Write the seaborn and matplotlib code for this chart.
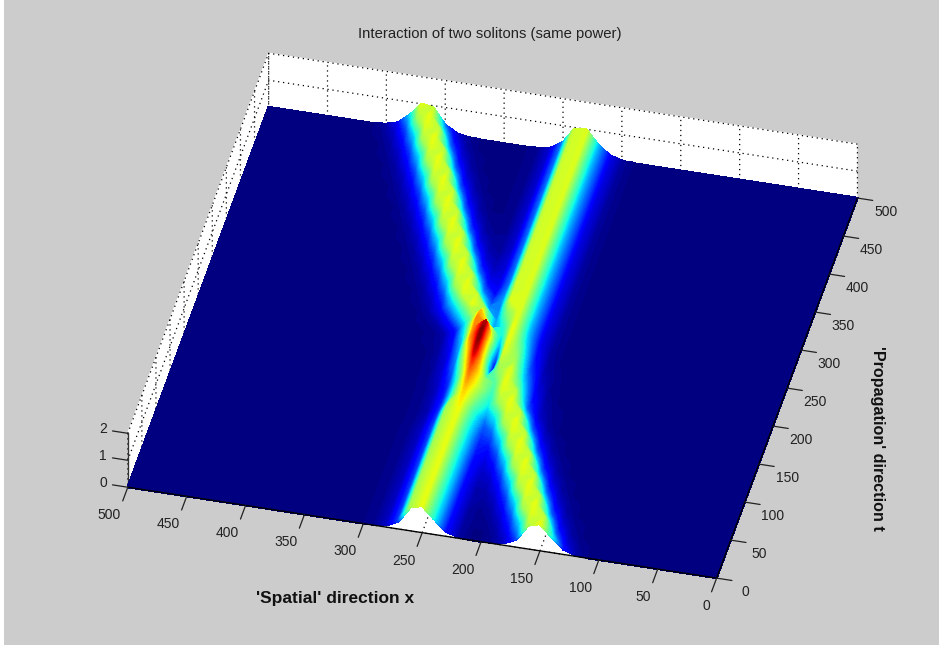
import numpy as np
import matplotlib
matplotlib.use('Agg')
import matplotlib.pyplot as plt
from matplotlib.patches import Rectangle
import seaborn as sns

# Height, in 1/100 units, one row per t value (step 12.5).
# Each row starts at x=100, step 10; anything not listed is flat (zero).
t_vals = np.arange(0, 501, 12.5)
x_vals = [0] + list(range(100, 431, 10)) + [500]
rows_front = [
    [0,1,5,19,58,100,88,30,9,3,1,1,5,19,58,100,88,30,9,3,1],
    [0,1,3,10,34,92,99,52,17,5,1,1,5,19,58,100,88,30,9,3,1],
    [0,0,1,5,19,58,100,88,30,9,3,2,5,19,58,100,88,30,9,3,1],
    [0,0,1,3,10,34,92,99,52,17,5,2,5,19,58,100,88,30,9,3,1],
    [0,0,0,1,5,19,58,100,88,30,9,4,6,19,58,100,88,30,9,3,1],
    [0,0,0,1,3,10,34,92,99,52,17,6,6,19,58,100,88,30,9,3,1],
    [0,0,0,0,1,5,19,58,100,88,30,10,8,20,58,100,88,30,9,3,1],
    [0,0,0,0,1,3,10,34,92,99,52,18,10,20,58,100,88,30,9,3,1],
    [0,0,0,0,0,1,5,19,58,100,88,31,14,22,59,100,88,30,9,3,1],
    [0,0,0,0,0,1,3,10,34,92,99,53,22,24,59,100,88,30,9,3,1],
    [0,0,0,0,0,0,1,5,19,58,100,88,35,28,61,101,88,30,9,3,1],
    [0,0,0,0,0,0,1,3,10,34,92,99,57,36,65,105,85,28,8,2,1],
    [0,0,0,0,0,0,0,1,5,19,58,100,88,54,78,110,72,26,7,2,1],
]
rows_collision = [
    [0,0,0,0,0,0,0,1,3,10,34,92,99,62,88,120,70,25,8,2,1],
    [0,0,0,0,0,0,0,1,2,7,24,72,100,70,85,133,72,26,8,2,1],
    [0,0,0,0,0,0,0,0,1,5,18,56,98,82,55,150,85,30,10,3,1],
    [0,0,0,0,0,0,0,0,1,3,13,43,88,92,20,158,100,38,12,3,1],
    [0,0,0,0,0,0,0,0,0,3,9,32,80,98,12,158,116,44,13,4,1],
    [0,0,0,0,0,0,0,0,0,2,6,25,70,100,30,152,118,50,16,4,1],
    [0,0,0,0,0,0,0,0,0,1,5,20,58,100,50,100,122,60,20,5,2,1],
    [0,0,0,0,0,0,0,0,0,1,4,16,50,99,62,42,112,68,24,7,2,1],
    [0,0,0,0,0,0,0,0,0,1,4,15,47,98,80,40,85,100,60,22,6,2,1],
    [0,0,0,0,0,0,0,0,0,1,4,15,47,98,98,40,45,95,99,52,17,5,1],
    [0,0,0,0,0,0,0,0,0,1,4,15,47,98,95,43,30,60,100,88,30,9,3,1],
    [0,0,0,0,0,0,0,0,0,1,4,15,47,98,96,41,21,37,92,99,52,17,5,1],
]
# past the collision the right ridge stays put: x=100..250 is the same in every row
ridge_right = [0,0,0,0,0,0,0,0,0,1,4,15,47,98,95,38]
rows_back = [
    [16,22,59,100,88,30,9,3,1],
    [14,13,35,92,99,52,17,5,1],
    [12,8,20,58,100,88,30,9,3,1],
    [12,6,11,34,92,99,52,17,5,1],
    [11,4,6,19,58,100,88,30,9,3,1],
    [11,4,4,10,34,92,99,52,17,5,1],
    [11,3,2,5,19,58,100,88,30,9,3,1],
    [11,3,2,3,10,34,92,99,52,17,5,1],
    [11,3,1,1,5,19,58,100,88,30,9,3,1],
    [11,3,1,1,3,10,34,92,99,52,17,5,1],
    [11,3,1,0,1,5,19,58,100,88,30,9,3,1],
    [11,3,1,0,1,3,10,34,92,99,52,17,5,1],
    [11,3,1,0,0,1,5,19,58,100,88,30,9,3,1],
    [11,3,1,0,0,1,3,10,34,92,99,52,17,5,1],
    [11,3,1,0,0,0,1,5,19,58,100,88,30,9,3,1],
    [11,3,1,0,0,0,1,3,10,34,92,99,52,17,5,1],
]

x_ticks = list(range(0, 501, 50))
t_ticks = list(range(0, 501, 50))
z_ticks = [0, 1, 2]

rows = rows_front + rows_collision + [ridge_right + r for r in rows_back]
Z = np.zeros((len(t_vals), len(x_vals)))
for i, r in enumerate(rows):
    Z[i, 1:1 + len(r)] = r
Z = Z / 100
X, T = np.meshgrid(x_vals, t_vals)

sns.set_theme(style='white')
plt.rcParams['font.family'] = ['Liberation Sans', 'DejaVu Sans']

fig = plt.figure(figsize=(9.39, 6.49), dpi=100, facecolor='white')
fig.patches.append(Rectangle((4 / 939, 4 / 649), 935 / 939, 645 / 649, transform=fig.transFigure,
                             facecolor='#cccccc', edgecolor='none', figure=fig, zorder=-5))

# big square axes, the surface gets clipped to the axes box otherwise
ax = fig.add_axes([-20.9 / 939, -180.2 / 649, 1000 / 939, 1000 / 649], projection='3d',
                  facecolor='none', computed_zorder=False)
ax.set_proj_type('ortho')
ax.patch.set_alpha(0)
ax.view_init(elev=40.2, azim=-76.55)
ax.set_box_aspect((1, 1, 0.1166), zoom=0.834)

levels = np.linspace(-0.005, 1.61, 90)
cs = ax.contourf(X, T, Z, levels=levels, cmap='jet', vmin=0, vmax=1.6, zorder=2)
cs.set_edgecolor('face')
cs.set_linewidth(1.0)

# axis lines and ticks sit under the surface, draw them on top
tick_col = '#222222'
ax.plot([500, 0], [0, 0], [0, 0], color='black', lw=1.0, zorder=5)
ax.plot([0, 0], [0, 500], [0, 0], color='black', lw=1.0, zorder=5)
ax.plot([500, 500], [0, 0], [0, 2], color='#333333', lw=1.0, zorder=1)
for v in x_ticks:
    ax.plot([v, v], [0, -18], [0, 0], color=tick_col, lw=0.9, zorder=5)
for v in t_ticks:
    ax.plot([0, -13], [v, v], [0, 0], color=tick_col, lw=0.9, zorder=5)
for v in z_ticks:
    ax.plot([500, 513], [0, 0], [v, v], color=tick_col, lw=0.9, zorder=5)
    ax.text(521, 0, v, str(v), ha='center', va='center', fontsize=10, color=tick_col)

ax.set_xlim(500, 0, view_margin=0)
ax.set_ylim(0, 500, view_margin=0)
ax.set_zlim(0, 2, view_margin=0)
ax.set_xticks(x_ticks)
ax.set_yticks(t_ticks)
ax.set_zticks(z_ticks)
ax.set_zticklabels([])
ax.tick_params(labelsize=10, colors=tick_col, pad=10)
plt.setp(ax.get_xticklabels(), ha='right')

for a in (ax.xaxis, ax.yaxis, ax.zaxis):
    a.set_pane_color((1, 1, 1, 1))
    a.pane.set_edgecolor('white')
    a._axinfo['grid'].update(color='black', linestyle=(0, (1, 3)), linewidth=0.9)
    a._axinfo['tick'].update(inward_factor=0, outward_factor=0)
    a.line.set_color('none')
    a.label.set_visible(False)
    a.offsetText.set_visible(False)

fig.text(490 / 939, 1 - 34 / 649, 'Interaction of two solitons (same power)', ha='center', va='center',
         fontsize=10.7, color='#222222')
fig.text(335 / 939, 1 - 599 / 649, "'Spatial' direction x", ha='center', va='center',
         fontsize=12.5, fontweight='bold', color='#111111')
fig.text(878 / 939, 1 - 438 / 649, "'Propagation' direction t", ha='center', va='center', rotation=-90,
         fontsize=11.6, fontweight='bold', color='#111111')

fig.savefig('out.png', dpi=100, facecolor=fig.get_facecolor())
